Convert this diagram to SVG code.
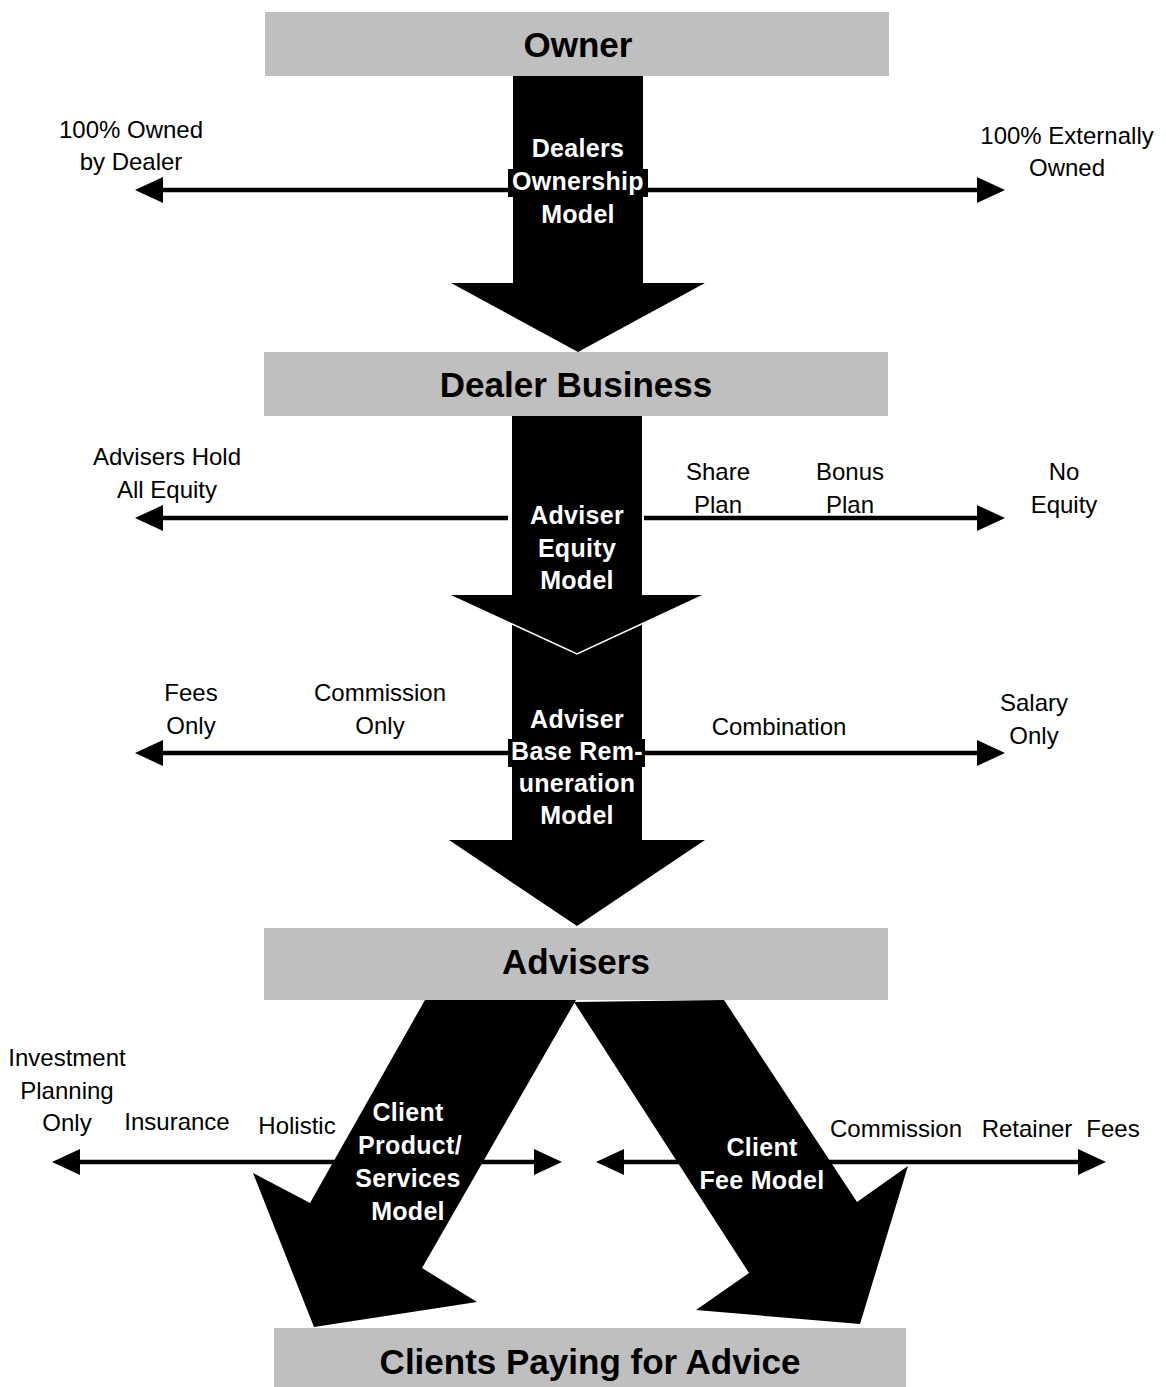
<svg xmlns="http://www.w3.org/2000/svg" width="1166" height="1387" viewBox="0 0 1166 1387">
<style>
.box{fill:#bfbfbf}
.title{font-family:"Liberation Sans",Arial,sans-serif;font-weight:bold;font-size:35px;fill:#000;text-anchor:middle}
.lbl{font-family:"Liberation Sans",Arial,sans-serif;font-size:24px;fill:#000;text-anchor:middle}
.in{font-family:"Liberation Sans",Arial,sans-serif;font-weight:bold;font-size:25px;letter-spacing:0.3px;fill:#fff;text-anchor:middle}
.big{fill:#000}
.ln{stroke:#000;stroke-width:4.5;fill:none;marker-end:url(#ah)}
.ln2{stroke:#000;stroke-width:4.5;fill:none;marker-start:url(#ah);marker-end:url(#ah)}
</style>
<defs>
<marker id="ah" markerUnits="userSpaceOnUse" markerWidth="30" markerHeight="28" refX="0" refY="13" orient="auto-start-reverse" viewBox="0 0 30 28">
<path d="M0,0 L28,13 L0,26 z" fill="#000"/>
</marker>
</defs>

<g id="connectors">
<line class="ln" x1="508" y1="190" x2="163" y2="190"/>
<line class="ln" x1="648" y1="190" x2="977" y2="190"/>
<line class="ln" x1="508" y1="518" x2="163" y2="518"/>
<line class="ln" x1="644" y1="518" x2="977" y2="518"/>
<line class="ln" x1="508" y1="753" x2="163" y2="753"/>
<line class="ln" x1="645" y1="753" x2="977" y2="753"/>
<line class="ln2" x1="80" y1="1162" x2="534" y2="1162"/>
<line class="ln2" x1="624" y1="1162" x2="1078" y2="1162"/>
</g>

<g id="owner">
<rect class="box" x="265" y="12" width="624" height="64"/>
<text class="title" x="578" y="57">Owner</text>
</g>
<g id="dealer-business">
<rect class="box" x="264" y="352" width="624" height="64"/>
<text class="title" x="576" y="397">Dealer Business</text>
</g>
<g id="advisers">
<rect class="box" x="264" y="928" width="624" height="72"/>
<text class="title" x="576" y="974">Advisers</text>
</g>
<g id="clients">
<rect class="box" x="274" y="1328" width="632" height="59"/>
<text class="title" x="590" y="1374">Clients Paying for Advice</text>
</g>

<g id="dealers-ownership-model">
<polygon class="big" points="513,76 643,76 643,283 705,283 578,352 451,283 513,283"/>
<rect class="big" x="508" y="169" width="140" height="28"/>
<text class="in" x="578" y="157">Dealers</text>
<text class="in" x="578" y="190">Ownership</text>
<text class="in" x="578" y="223">Model</text>
</g>

<g id="adviser-base-remuneration-model">
<polygon class="big" points="512,620 642,620 642,840 705,840 577,926 449,840 512,840"/>
<rect class="big" x="508" y="739" width="137" height="28"/>
<text class="in" x="577" y="728">Adviser</text>
<text class="in" x="577" y="760">Base Rem-</text>
<text class="in" x="577" y="792">uneration</text>
<text class="in" x="577" y="824">Model</text>
</g>

<g id="adviser-equity-model">
<polygon class="big" points="512,416 642,416 642,595 704,595 577,654 449,595 512,595"/>
<polyline points="449,595 577,654 704,595" fill="none" stroke="#fff" stroke-width="1.5"/>
<text class="in" x="577" y="524">Adviser</text>
<text class="in" x="577" y="557">Equity</text>
<text class="in" x="577" y="589">Model</text>
</g>

<g id="client-product-services-model">
<polygon class="big" points="425,1000 576,1000 422,1268 477,1302 314,1327 253,1173 310,1203"/>
<text class="in" x="408" y="1121">Client</text>
<text class="in" x="410" y="1154">Product/</text>
<text class="in" x="408" y="1187">Services</text>
<text class="in" x="408" y="1220">Model</text>
</g>

<g id="client-fee-model">
<polygon class="big" points="574,1002 724,1000 857,1202 908,1166 860,1324 696,1310 749,1273"/>
<text class="in" x="762" y="1156">Client</text>
<text class="in" x="762" y="1189">Fee Model</text>
</g>

<g id="labels">
<text class="lbl" x="131" y="138">100% Owned</text>
<text class="lbl" x="131" y="170">by Dealer</text>
<text class="lbl" x="1067" y="144">100% Externally</text>
<text class="lbl" x="1067" y="176">Owned</text>
<text class="lbl" x="167" y="465">Advisers Hold</text>
<text class="lbl" x="167" y="498">All Equity</text>
<text class="lbl" x="718" y="480">Share</text>
<text class="lbl" x="718" y="513">Plan</text>
<text class="lbl" x="850" y="480">Bonus</text>
<text class="lbl" x="850" y="513">Plan</text>
<text class="lbl" x="1064" y="480">No</text>
<text class="lbl" x="1064" y="513">Equity</text>
<text class="lbl" x="191" y="701">Fees</text>
<text class="lbl" x="191" y="734">Only</text>
<text class="lbl" x="380" y="701">Commission</text>
<text class="lbl" x="380" y="734">Only</text>
<text class="lbl" x="779" y="735">Combination</text>
<text class="lbl" x="1034" y="711">Salary</text>
<text class="lbl" x="1034" y="744">Only</text>
<text class="lbl" x="67" y="1066">Investment</text>
<text class="lbl" x="67" y="1099">Planning</text>
<text class="lbl" x="67" y="1131">Only</text>
<text class="lbl" x="177" y="1130">Insurance</text>
<text class="lbl" x="297" y="1134">Holistic</text>
<text class="lbl" x="896" y="1137">Commission</text>
<text class="lbl" x="1027" y="1137">Retainer</text>
<text class="lbl" x="1113" y="1137">Fees</text>
</g>
</svg>
